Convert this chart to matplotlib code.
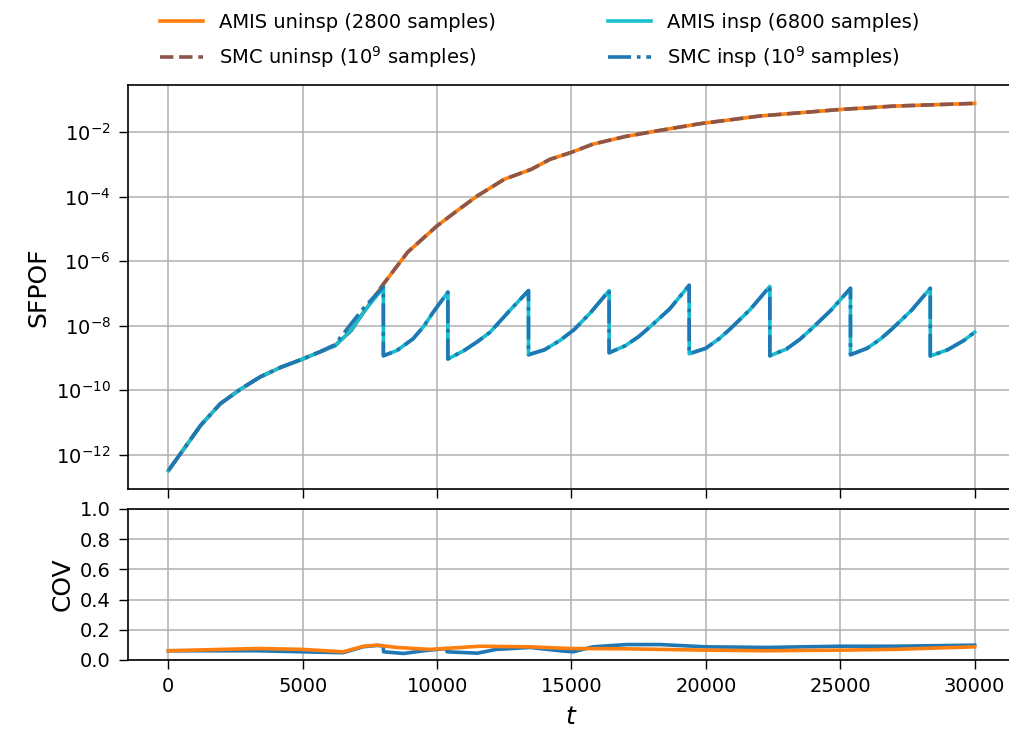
import numpy as np
import matplotlib
matplotlib.use("Agg")
import matplotlib.pyplot as plt
from matplotlib.ticker import FixedLocator, NullLocator

# SFPOF, uninspected structure (AMIS and SMC overlap)
t_uninsp = [0, 630, 1200, 1930, 2700, 3420, 4200, 5000, 5600, 6200, 6800, 7260,
            8000, 8900, 10000, 10800, 11500, 12500, 13500, 14200, 15000, 15800,
            17000, 18300, 19800, 22000, 25000, 27000, 30000]
sfpof_uninsp = [3.2e-13, 1.74e-12, 8.1e-12, 3.8e-11, 1.1e-10, 2.6e-10, 5.2e-10,
                9.3e-10, 1.5e-9, 2.4e-9, 7.1e-9, 2.6e-8, 1.95e-7, 1.9e-6,
                1.26e-5, 4.0e-5, 1.07e-4, 3.5e-4, 7.1e-4, 1.45e-3, 2.4e-3,
                4.3e-3, 7.4e-3, 1.15e-2, 1.86e-2, 3.2e-2, 5.1e-2, 6.5e-2, 7.9e-2]

# SFPOF, inspected structure (sawtooth after each inspection)
t_insp = [0, 630, 1200, 1930, 2700, 3420, 4200, 5000, 5600, 6200, 6800, 7260, 8000,
          8000, 8500, 9100, 9500, 9850, 10400,
          10400, 11000, 11500, 11970, 12700, 13400,
          13400, 14000, 14570, 15100, 15700, 16400,
          16400, 17000, 17500, 17900, 18650, 19380,
          19380, 20000, 20500, 20900, 21650, 22380,
          22380, 23000, 23500, 23900, 24650, 25380,
          25380, 26000, 26500, 26900, 27650, 28350,
          28350, 29000, 29600, 30000]
sfpof_insp_amis = [3.2e-13, 1.74e-12, 8.1e-12, 3.8e-11, 1.1e-10, 2.6e-10, 5.2e-10, 9.3e-10,
                   1.5e-9, 2.4e-9, 7.1e-9, 2.6e-8, 1.55e-7,
                   1.17e-9, 1.7e-9, 3.9e-9, 9.5e-9, 2.6e-8, 1.1e-7,
                   9.3e-10, 1.7e-9, 3.2e-9, 6.3e-9, 2.95e-8, 1.23e-7,
                   1.26e-9, 1.8e-9, 3.5e-9, 7.6e-9, 2.5e-8, 1.23e-7,
                   1.45e-9, 2.4e-9, 4.6e-9, 8.9e-9, 3.3e-8, 1.8e-7,
                   1.35e-9, 2.0e-9, 4.0e-9, 7.9e-9, 3.2e-8, 1.66e-7,
                   1.17e-9, 1.9e-9, 3.8e-9, 7.6e-9, 3.0e-8, 1.45e-7,
                   1.26e-9, 2.0e-9, 3.9e-9, 7.6e-9, 3.0e-8, 1.45e-7,
                   1.15e-9, 1.8e-9, 3.5e-9, 6.3e-9]
sfpof_insp_smc = [3.2e-13, 1.74e-12, 8.1e-12, 3.8e-11, 1.1e-10, 2.6e-10, 5.2e-10, 9.3e-10,
                  1.5e-9, 2.6e-9, 1.15e-8, 3.5e-8, 1.6e-7,
                  1.17e-9, 1.7e-9, 3.9e-9, 9.5e-9, 2.6e-8, 1.1e-7,
                  9.3e-10, 1.7e-9, 3.2e-9, 6.3e-9, 2.95e-8, 1.23e-7,
                  1.26e-9, 1.8e-9, 3.5e-9, 7.6e-9, 2.5e-8, 1.23e-7,
                  1.45e-9, 2.4e-9, 4.6e-9, 8.9e-9, 3.3e-8, 1.8e-7,
                  1.35e-9, 2.0e-9, 4.0e-9, 7.9e-9, 3.2e-8, 1.66e-7,
                  1.17e-9, 1.9e-9, 3.8e-9, 7.6e-9, 3.0e-8, 1.45e-7,
                  1.26e-9, 2.0e-9, 3.9e-9, 7.6e-9, 3.0e-8, 1.45e-7,
                  1.15e-9, 1.8e-9, 3.5e-9, 6.3e-9]

# coefficient of variation of the AMIS estimates
t_cov_uninsp = [0, 3300, 5000, 6500, 7260, 7760, 8500, 9740, 11600, 13450,
                14950, 17000, 20000, 22250, 25000, 27000, 30000]
cov_uninsp = [0.061, 0.076, 0.070, 0.054, 0.091, 0.098, 0.083, 0.070, 0.091,
              0.087, 0.076, 0.074, 0.065, 0.061, 0.065, 0.070, 0.087]
t_cov_insp = [0, 3300, 5000, 6500, 7260, 7760, 7990, 8010, 8750, 9500, 10350,
              10370, 11500, 12200, 13450, 14570, 15060, 15800, 17050, 18300,
              20000, 22250, 25000, 27000, 30000]
cov_insp = [0.061, 0.061, 0.054, 0.048, 0.088, 0.096, 0.094, 0.054, 0.043,
            0.061, 0.076, 0.054, 0.045, 0.070, 0.083, 0.061, 0.054, 0.087,
            0.102, 0.102, 0.087, 0.083, 0.091, 0.091, 0.098]

x_ticks = [0, 5000, 10000, 15000, 20000, 25000, 30000]
y_ticks_top = [1e-12, 1e-10, 1e-8, 1e-6, 1e-4, 1e-2]
y_ticks_bottom = [0.0, 0.2, 0.4, 0.6, 0.8, 1.0]

plt.rcParams['font.family'] = ['DejaVu Sans']
plt.rcParams['font.size'] = 14

fig = plt.figure(figsize=(10.09, 7.29), dpi=100)
ax1 = fig.add_axes([0.1269, 0.3292, 0.879, 0.5542])
ax2 = fig.add_axes([0.1269, 0.0947, 0.879, 0.2071], sharex=ax1)

lw = 2.6
l1, = ax1.plot(t_uninsp, sfpof_uninsp, color='tab:orange', lw=lw, label='AMIS uninsp (2800 samples)')
l2, = ax1.plot(t_uninsp, sfpof_uninsp, color='tab:brown', lw=lw, ls='--', label='SMC uninsp ($10^9$ samples)')
l3, = ax1.plot(t_insp, sfpof_insp_amis, color='tab:cyan', lw=lw, label='AMIS insp (6800 samples)')
l4, = ax1.plot(t_insp, sfpof_insp_smc, color='tab:blue', lw=lw, ls='-.', label='SMC insp ($10^9$ samples)')
ax1.set_yscale('log')
ax1.yaxis.set_major_locator(FixedLocator(y_ticks_top))
ax1.yaxis.set_minor_locator(NullLocator())
ax1.set_xlim(-1500, 31500)
ax1.set_ylabel('SFPOF', fontsize=18)
ax1.tick_params(labelbottom=False)

ax2.plot(t_cov_insp, cov_insp, color='tab:blue', lw=lw)
ax2.plot(t_cov_uninsp, cov_uninsp, color='tab:orange', lw=lw)
ax2.set_ylim(0, 1)
ax2.set_yticks(y_ticks_bottom)
ax2.set_xticks(x_ticks)
ax2.set_ylabel('COV', fontsize=18)
ax2.set_xlabel('$t$', fontsize=18, labelpad=6)

for ax in (ax1, ax2):
    ax.grid(True, color='#b0b0b0', lw=1.1)
    ax.set_axisbelow(True)
    ax.tick_params(length=6.5, width=1.0, pad=6, labelsize=14)
    for sp in ax.spines.values():
        sp.set_linewidth(1.2)
    ax.spines['right'].set_visible(False)

fig.legend(handles=[l1, l2, l3, l4], ncol=2, loc='center', bbox_to_anchor=(0.535, 0.943),
           frameon=False, fontsize=14, columnspacing=5.8, labelspacing=0.65, handlelength=2.2)

fig.savefig('out.png', dpi=100)
